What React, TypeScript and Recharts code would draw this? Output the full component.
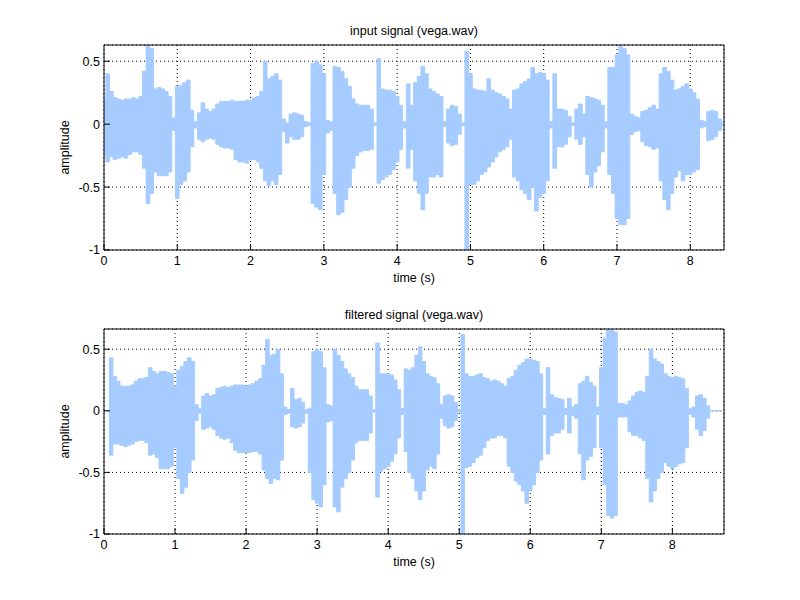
import React from 'react';
import { ComposedChart, Area, XAxis, YAxis, CartesianGrid } from 'recharts';

// envelope of the waveform, one min/max pair every SAMPLE_STEP seconds
const SAMPLE_STEP = 0.05;

const inputHi = [
  0.2, 0.4, 0.26, 0.21, 0.2, 0.19, 0.2, 0.2, 0.21, 0.2,
  0.22, 0.42, 0.63, 0.6, 0.28, 0.29, 0.28, 0.26, 0.22, 0.05,
  0.3, 0.31, 0.33, 0.35, 0.11, 0.02, 0.09, 0.17, 0.12, 0.1,
  0.12, 0.16, 0.18, 0.18, 0.18, 0.19, 0.18, 0.18, 0.18, 0.19,
  0.19, 0.21, 0.22, 0.26, 0.5, 0.36, 0.38, 0.4, 0.35, 0.04,
  0.01, 0.08, 0.09, 0.08, 0.07, 0.02, 0.01, 0.48, 0.5, 0.47,
  0.4, 0.03, 0.02, 0.46, 0.45, 0.42, 0.36, 0.3, 0.2, 0.16,
  0.15, 0.15, 0.15, 0.12, 0.01, 0.52, 0.28, 0.27, 0.27, 0.26,
  0.22, 0.15, 0.02, 0.32, 0.15, 0.33, 0.38, 0.46, 0.4, 0.28,
  0.26, 0.24, 0.22, 0.02, 0.12, 0.15, 0.14, 0.08, 0.01, 0.58,
  0.4, 0.28, 0.27, 0.27, 0.26, 0.36, 0.27, 0.25, 0.24, 0.22,
  0.2, 0.12, 0.27, 0.28, 0.32, 0.34, 0.36, 0.45, 0.4, 0.41,
  0.4, 0.35, 0.02, 0.4, 0.12, 0.12, 0.11, 0.06, 0.01, 0.12,
  0.16, 0.08, 0.22, 0.21, 0.2, 0.19, 0.15, 0.02, 0.45, 0.45,
  0.55, 0.62, 0.6, 0.55, 0.08, 0.06, 0.05, 0.1, 0.11, 0.13,
  0.15, 0.12, 0.4, 0.45, 0.42, 0.35, 0.27, 0.28, 0.3, 0.32,
  0.28, 0.25, 0.2, 0.03, 0.02, 0.1, 0.11, 0.1, 0.04, 0.01,
];

const inputLo = [
  -0.25, -0.3, -0.26, -0.28, -0.27, -0.26, -0.27, -0.24, -0.22, -0.22,
  -0.24, -0.35, -0.63, -0.55, -0.38, -0.41, -0.41, -0.41, -0.38, -0.05,
  -0.59, -0.48, -0.45, -0.38, -0.18, -0.03, -0.12, -0.14, -0.12, -0.11,
  -0.12, -0.16, -0.18, -0.19, -0.19, -0.2, -0.28, -0.3, -0.3, -0.31,
  -0.28, -0.28, -0.3, -0.35, -0.45, -0.49, -0.45, -0.48, -0.4, -0.06,
  -0.15, -0.1, -0.12, -0.12, -0.1, -0.02, -0.01, -0.63, -0.66, -0.68,
  -0.4, -0.07, -0.05, -0.55, -0.72, -0.7, -0.6, -0.5, -0.35, -0.25,
  -0.22, -0.21, -0.21, -0.2, -0.01, -0.47, -0.44, -0.42, -0.4, -0.36,
  -0.3, -0.2, -0.03, -0.35, -0.2, -0.45, -0.55, -0.68, -0.55, -0.42,
  -0.42, -0.4, -0.42, -0.02, -0.15, -0.17, -0.16, -0.08, -0.01, -1.0,
  -0.48, -0.48, -0.45, -0.4, -0.38, -0.34, -0.3, -0.26, -0.22, -0.2,
  -0.18, -0.12, -0.42, -0.45, -0.52, -0.55, -0.6, -0.5, -0.69, -0.58,
  -0.55, -0.45, -0.03, -0.35, -0.18, -0.18, -0.16, -0.1, -0.01, -0.12,
  -0.16, -0.1, -0.4, -0.5, -0.38, -0.33, -0.22, -0.03, -0.4, -0.55,
  -0.75, -0.8, -0.8, -0.75, -0.08, -0.06, -0.05, -0.14, -0.17, -0.18,
  -0.2, -0.19, -0.45, -0.6, -0.68, -0.55, -0.42, -0.37, -0.45, -0.4,
  -0.4, -0.38, -0.36, -0.03, -0.02, -0.13, -0.12, -0.1, -0.05, -0.01,
];

const filteredHi = [
  0, 0, 0.43, 0.28, 0.24, 0.2, 0.2, 0.2, 0.21, 0.24,
  0.26, 0.26, 0.27, 0.35, 0.32, 0.3, 0.32, 0.32, 0.31, 0.3,
  0.2, 0.33, 0.36, 0.4, 0.43, 0.4, 0.05, 0.02, 0.12, 0.14,
  0.12, 0.13, 0.18, 0.19, 0.2, 0.19, 0.2, 0.21, 0.21, 0.21,
  0.2, 0.21, 0.22, 0.24, 0.26, 0.37, 0.58, 0.45, 0.46, 0.5,
  0.3, 0.03, 0.01, 0.18, 0.09, 0.1, 0.07, 0.01, 0.02, 0.48,
  0.5, 0.48, 0.35, 0.05, 0.04, 0.5, 0.45, 0.4, 0.34, 0.3,
  0.27, 0.2, 0.17, 0.17, 0.17, 0.12, 0.01, 0.55, 0.3, 0.3,
  0.3, 0.29, 0.25, 0.17, 0.02, 0.34, 0.33, 0.35, 0.45, 0.52,
  0.4, 0.3, 0.28, 0.27, 0.22, 0.05, 0.12, 0.13, 0.12, 0.07,
  0.01, 0.62, 0.3, 0.28, 0.28, 0.29, 0.3, 0.27, 0.26, 0.24,
  0.25, 0.24, 0.22, 0.2, 0.26, 0.28, 0.33, 0.37, 0.39, 0.42,
  0.42, 0.41, 0.4, 0.3, 0.02, 0.35, 0.13, 0.11, 0.1, 0.09,
  0.02, 0.1, 0.03, 0.05, 0.22, 0.24, 0.28, 0.23, 0.2, 0.03,
  0.35, 0.59, 0.66, 0.66, 0.64, 0.06, 0.06, 0.05, 0.08, 0.12,
  0.15, 0.16, 0.15, 0.28, 0.5, 0.42, 0.4, 0.38, 0.3, 0.28,
  0.27, 0.28, 0.27, 0.26, 0.18, 0.02, 0.03, 0.12, 0.13, 0.1,
  0.04, 0, 0, 0, 0,
];

const filteredLo = [
  0, 0, -0.36, -0.27, -0.27, -0.28, -0.29, -0.28, -0.27, -0.25,
  -0.24, -0.24, -0.26, -0.36, -0.35, -0.38, -0.47, -0.47, -0.47, -0.45,
  -0.3, -0.55, -0.67, -0.62, -0.5, -0.4, -0.08, -0.02, -0.15, -0.14,
  -0.13, -0.15, -0.2, -0.22, -0.23, -0.22, -0.26, -0.32, -0.34, -0.34,
  -0.34, -0.34, -0.33, -0.33, -0.35, -0.48, -0.55, -0.59, -0.55, -0.56,
  -0.4, -0.03, -0.02, -0.13, -0.14, -0.13, -0.1, -0.02, -0.5, -0.72,
  -0.75, -0.78, -0.6, -0.09, -0.08, -0.78, -0.82, -0.62, -0.55, -0.5,
  -0.4, -0.26, -0.24, -0.24, -0.24, -0.18, -0.01, -0.7, -0.49, -0.47,
  -0.45, -0.41, -0.35, -0.22, -0.03, -0.33, -0.5, -0.55, -0.65, -0.72,
  -0.65, -0.48, -0.45, -0.47, -0.35, -0.06, -0.12, -0.14, -0.13, -0.08,
  -0.01, -1.0, -0.46, -0.45, -0.42, -0.38, -0.36, -0.3, -0.24, -0.22,
  -0.22, -0.2, -0.2, -0.22, -0.45, -0.5, -0.57, -0.6, -0.65, -0.75,
  -0.65, -0.6, -0.5, -0.4, -0.03, -0.35, -0.2, -0.18, -0.18, -0.15,
  -0.03, -0.18, -0.04, -0.06, -0.35, -0.56, -0.4, -0.37, -0.3, -0.03,
  -0.3, -0.6, -0.85, -0.87, -0.85, -0.05, -0.05, -0.05, -0.17, -0.2,
  -0.2, -0.22, -0.24, -0.55, -0.74, -0.65, -0.55, -0.5, -0.42, -0.45,
  -0.47, -0.45, -0.43, -0.42, -0.3, -0.03, -0.05, -0.15, -0.2, -0.16,
  -0.06, 0, 0, 0, 0,
];

const TIME_TICKS = [0, 1, 2, 3, 4, 5, 6, 7, 8];
const AMP_TICKS = [-1, -0.5, 0, 0.5];

const WAVE = '#a6ccff';
const FONT = '"Liberation Sans", Arial, Helvetica, sans-serif';
const FONT_SIZE = 12.5;

function toRows(hi: number[], lo: number[]) {
  return hi.map((h, i) => ({
    t: Math.round(i * SAMPLE_STEP * 100) / 100,
    range: [lo[i], h],
  }));
}

const inputData = toRows(inputHi, inputLo);
const filteredData = toRows(filteredHi, filteredLo);

interface PanelProps {
  data: { t: number; range: number[] }[];
  xMax: number;
  yMax: number;
  top: number;
  bottom: number;
}

function WavePanel({ data, xMax, yMax, top, bottom }: PanelProps) {
  const tickText = { fill: '#000', fontSize: FONT_SIZE, fontFamily: FONT };
  const black = { stroke: '#000' };
  return (
    <ComposedChart
      width={800}
      height={300}
      data={data}
      margin={{ top: top - 1, right: 75, bottom, left: 0 }}
    >
      <CartesianGrid stroke="#000" strokeDasharray="1 3" />
      <Area
        type="step"
        dataKey="range"
        stroke={WAVE}
        strokeWidth={1}
        fill={WAVE}
        fillOpacity={1}
        dot={false}
        activeDot={false}
        isAnimationActive={false}
      />
      <XAxis
        dataKey="t"
        type="number"
        domain={[0, xMax]}
        ticks={TIME_TICKS}
        interval={0}
        allowDataOverflow
        height={30}
        axisLine={black}
        tickLine={black}
        tickSize={-6}
        tickMargin={12}
        tick={tickText}
      />
      <XAxis
        xAxisId="top"
        orientation="top"
        type="number"
        domain={[0, xMax]}
        ticks={TIME_TICKS}
        interval={0}
        allowDataOverflow
        height={1}
        axisLine={black}
        tickLine={black}
        tickSize={-6}
        tick={false}
      />
      <YAxis
        type="number"
        domain={[-1, yMax]}
        ticks={AMP_TICKS}
        interval={0}
        allowDataOverflow
        width={104}
        axisLine={black}
        tickLine={black}
        tickSize={-6}
        tickMargin={10}
        tick={tickText}
      />
      <YAxis
        yAxisId="right"
        orientation="right"
        type="number"
        domain={[-1, yMax]}
        ticks={AMP_TICKS}
        interval={0}
        allowDataOverflow
        width={1}
        axisLine={black}
        tickLine={black}
        tickSize={-6}
        tick={false}
      />
    </ComposedChart>
  );
}

export default function App() {
  const textStyle = { fontFamily: FONT, fontSize: FONT_SIZE, fill: '#000' };
  return (
    <div
      style={{
        position: 'absolute',
        left: 0,
        top: 0,
        width: 800,
        height: 600,
        background: '#fff',
      }}
    >
      <div style={{ position: 'absolute', left: 0, top: 0 }}>
        <WavePanel data={inputData} xMax={8.46} yMax={0.629} top={45} bottom={20} />
      </div>
      <div style={{ position: 'absolute', left: 0, top: 300 }}>
        <WavePanel data={filteredData} xMax={8.727} yMax={0.664} top={29} bottom={36} />
      </div>
      {/* titles and axis labels */}
      <svg
        width={800}
        height={600}
        style={{ position: 'absolute', left: 0, top: 0, pointerEvents: 'none' }}
      >
        <text x={414} y={35} textAnchor="middle" style={textStyle}>
          input signal (vega.wav)
        </text>
        <text x={414} y={281.5} textAnchor="middle" style={textStyle}>
          time (s)
        </text>
        <text x={69} y={147.5} textAnchor="middle" transform="rotate(-90 69 147.5)" style={textStyle}>
          amplitude
        </text>
        <text x={414} y={319} textAnchor="middle" style={textStyle}>
          filtered signal (vega.wav)
        </text>
        <text x={414} y={565.5} textAnchor="middle" style={textStyle}>
          time (s)
        </text>
        <text x={69} y={431.5} textAnchor="middle" transform="rotate(-90 69 431.5)" style={textStyle}>
          amplitude
        </text>
      </svg>
    </div>
  );
}
